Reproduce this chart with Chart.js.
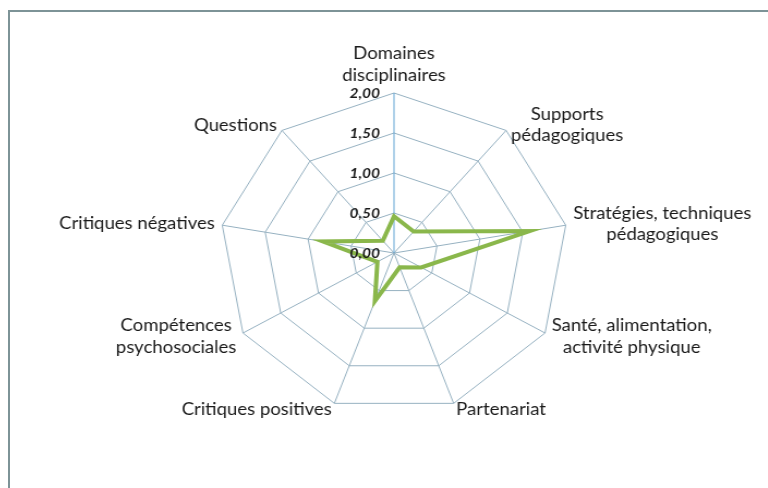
<!DOCTYPE html>
<html>
<head>
<meta charset="utf-8">
<script src="https://cdn.jsdelivr.net/npm/chart.js@4.4.1/dist/chart.umd.min.js"></script>
<style>
  html, body { margin: 0; padding: 0; background: #fff; overflow: hidden; width: 768px; height: 488px; }
  #frame { position: absolute; left: 8px; top: 10px; width: 800px; height: 500px; border: 2px solid #7d9397; }
  /* the original picture is stretched sideways, so stretch the canvas the same way */
  #chart { position: absolute; left: 0; top: 0; transform: scaleX(1.09); transform-origin: 394px 0; }
</style>
</head>
<body>
<div id="frame"></div>
<canvas id="chart" width="768" height="488"></canvas>
<script>
const categories = [
  ['Domaines', 'disciplinaires'],
  ['Supports', 'pédagogiques'],
  ['Stratégies, techniques', 'pédagogiques'],
  ['Santé, alimentation,', 'activité physique'],
  'Partenariat',
  'Critiques positives',
  ['Compétences', 'psychosociales'],
  'Critiques négatives',
  'Questions'
];
const values = [0.46, 0.35, 1.58, 0.36, 0.19, 0.64, 0.22, 0.83, 0.20];
const tickLabels = ['0,00', '0,50', '1,00', '1,50', '2,00'];

const gridColor = '#96b1c1';

// Excel-like labels: block centred on the point, lines centred in the block
const excelLabels = {
  id: 'excelLabels',
  afterDatasetsDraw(chart) {
    const scale = chart.scales.r;
    const ctx = chart.ctx;
    const R = scale.drawingArea;
    ctx.save();
    ctx.fillStyle = '#1a1a1a';

    ctx.font = 'italic bold 14px Lato';
    ctx.textAlign = 'right';
    ctx.textBaseline = 'middle';
    scale.ticks.forEach((t, i) => {
      const y = scale.yCenter - scale.getDistanceFromCenterForValue(t.value);
      ctx.fillText(tickLabels[i], scale.xCenter - 13, y);
    });

    ctx.font = '17px Lato';
    ctx.textAlign = 'center';
    const lh = 21.6;
    categories.forEach((lab, i) => {
      const lines = Array.isArray(lab) ? lab : [lab];
      const p = scale.getPointPosition(i, R + 7);
      const w = Math.max(...lines.map(l => ctx.measureText(l).width));
      const h = lines.length * lh;
      const deg = Math.round(scale.getIndexAngle(i) * 180 / Math.PI) % 360;
      let cx, top;
      if (deg === 0) { cx = p.x; top = p.y - h; }
      else if (deg === 180) { cx = p.x; top = p.y; }
      else { cx = deg < 180 ? p.x + w / 2 : p.x - w / 2; top = p.y - h / 2; }
      lines.forEach((l, j) => ctx.fillText(l, cx, top + lh * j + lh / 2));
    });
    ctx.restore();
  }
};

new Chart(document.getElementById('chart'), {
  type: 'radar',
  data: {
    labels: categories,
    datasets: [{
      data: values,
      borderColor: '#8ab74b',
      borderWidth: 4,
      pointRadius: 0,
      fill: false,
      tension: 0
    }]
  },
  options: {
    responsive: false,
    animation: false,
    layout: { padding: { top: 93, bottom: 74, left: 234, right: 213 } },
    plugins: { legend: { display: false }, tooltip: { enabled: false } },
    scales: {
      r: {
        min: 0,
        max: 2,
        ticks: { stepSize: 0.5, display: false },
        pointLabels: { display: false },
        grid: { color: gridColor, lineWidth: 1 },
        angleLines: { color: c => c.index === 0 ? '#5ea2d2' : gridColor, lineWidth: 1 }
      }
    }
  },
  plugins: [excelLabels]
});
</script>
</body>
</html>
